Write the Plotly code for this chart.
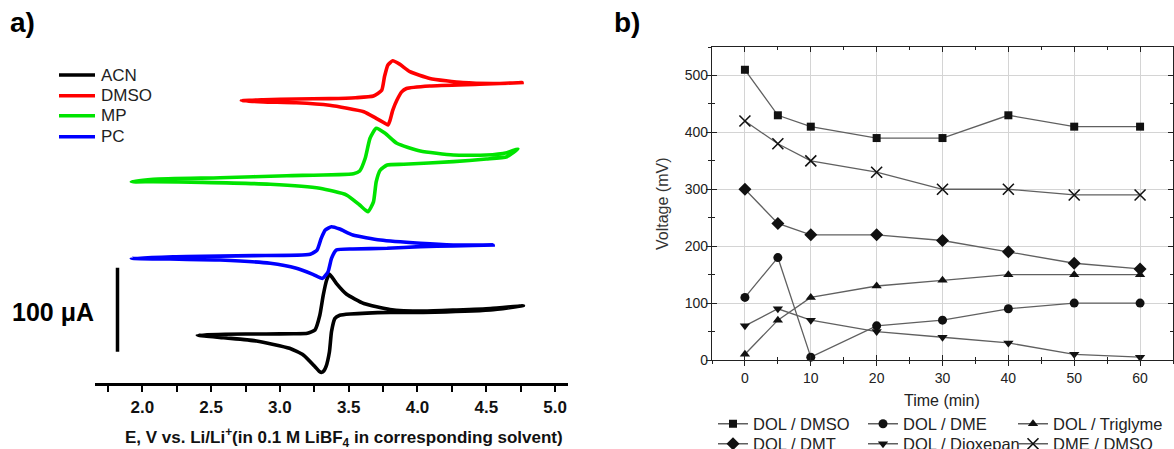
import plotly.graph_objects as go

W, H = 1174, 449
FONT = "Liberation Sans, Arial, sans-serif"

# ---------------- Panel a: cyclic voltammograms ----------------
# E in V vs Li/Li+, current in µA (curves vertically offset as in the figure)
acn_E = [2.40, 2.60, 2.90, 3.10, 3.20, 3.255, 3.29, 3.315, 3.34, 3.36, 3.41, 3.485, 3.61, 3.80, 4.04, 4.285, 4.53, 4.77,
         4.53, 4.04, 3.80, 3.51, 3.435, 3.40, 3.375, 3.36, 3.335, 3.32, 3.305, 3.285, 3.255, 3.17, 3.07, 2.83, 2.59, 2.40]
acn_I = [56.5, 57.5, 57.8, 58.0, 58.5, 62.5, 80.0, 104.0, 122.0, 129.0, 118.0, 105.0, 94.0, 87.0, 85.0, 86.3, 88.0, 91.5,
         86.3, 83.5, 83.5, 81.5, 80.0, 76.4, 60.5, 36.7, 18.8, 14.0, 12.1, 13.5, 18.8, 32.7, 40.7, 49.4, 53.3, 56.5]

dmso_E = [2.72, 2.88, 3.12, 3.36, 3.55, 3.68, 3.74, 3.76, 3.785, 3.82, 3.87, 3.945, 4.09, 4.33, 4.575, 4.76,
          4.45, 4.09, 3.92, 3.885, 3.85, 3.82, 3.80, 3.785, 3.76, 3.70, 3.61, 3.36, 3.12, 2.88, 2.72]
dmso_I = [335.5, 336.5, 337.5, 338.0, 339.0, 341.0, 348.0, 364.0, 378.0, 383.0, 379.0, 370.0, 362.0, 357.0, 356.0, 357.0,
          355.0, 353.0, 350.0, 346.0, 336.0, 324.0, 312.0, 306.5, 309.0, 314.5, 322.4, 330.0, 333.0, 334.0, 335.5]

mp_E = [1.92, 2.08, 2.565, 3.05, 3.535, 3.58, 3.62, 3.655, 3.70, 3.765, 3.85, 4.02, 4.26, 4.50, 4.65, 4.73,
        4.65, 4.50, 4.26, 3.90, 3.78, 3.73, 3.70, 3.68, 3.64, 3.58, 3.485, 3.29, 2.93, 2.44, 2.08, 1.92]
mp_I = [239.0, 242.0, 243.8, 246.2, 248.6, 251.8, 266.9, 290.7, 302.6, 296.7, 284.8, 275.6, 270.8, 270.8, 273.6, 278.0,
        268.8, 266.0, 262.9, 259.8, 258.9, 253.0, 239.0, 215.0, 203.3, 211.3, 223.2, 231.2, 236.0, 238.3, 239.0, 239.0]

pc_E = [1.92, 2.32, 2.81, 3.22, 3.27, 3.30, 3.33, 3.375, 3.435, 3.53, 3.73, 4.02, 4.26, 4.55,
        4.26, 4.02, 3.78, 3.53, 3.41, 3.375, 3.35, 3.31, 3.24, 3.12, 2.93, 2.565, 2.20, 1.92]
pc_I = [147.8, 149.8, 151.0, 152.6, 157.7, 171.6, 181.5, 185.5, 182.7, 175.6, 169.6, 165.7, 163.7, 163.7,
        162.5, 161.7, 159.8, 159.0, 157.7, 147.8, 131.9, 124.0, 128.8, 136.0, 141.9, 145.8, 147.0, 147.8]

cv_names = ["ACN", "DMSO", "MP", "PC"]
cv_colors = ["#000000", "#ff0000", "#00e400", "#0000ff"]
cv_data = [(acn_E, acn_I), (dmso_E, dmso_I), (mp_E, mp_I), (pc_E, pc_I)]
scale_bar_uA = 100

# ---------------- Panel b: voltage vs time ----------------
time_min = [0, 5, 10, 20, 30, 40, 50, 60]
dol_dmso = [510, 430, 410, 390, 390, 430, 410, 410]
dol_dme = [110, 180, 5, 60, 70, 90, 100, 100]
dol_triglyme = [10, 70, 110, 130, 140, 150, 150, 150]
dol_dmt = [300, 240, 220, 220, 210, 190, 170, 160]
dol_dioxepan = [60, 90, 70, 50, 40, 30, 10, 5]
dme_dmso = [420, 380, 350, 330, 300, 300, 290, 290]

series_b = [
    ("DOL / DMSO", dol_dmso, "square", 8, "legend"),
    ("DOL / DME", dol_dme, "circle", 9, "legend"),
    ("DOL / Triglyme", dol_triglyme, "triangle-up", 9, "legend"),
    ("DOL / DMT", dol_dmt, "diamond", 10, "legend2"),
    ("DOL / Dioxepan", dol_dioxepan, "triangle-down", 9, "legend2"),
    ("DME / DMSO", dme_dmso, "x-thin", 11, "legend2"),
]

fig = go.Figure()

for name, color, (E, I) in zip(cv_names, cv_colors, cv_data):
    fig.add_trace(go.Scatter(x=E, y=I, mode="lines", name=name, showlegend=False,
                             line=dict(color=color, width=3.6, shape="spline", smoothing=0.5),
                             xaxis="x2", yaxis="y2"))

for name, vals, sym, size, leg in series_b:
    if sym == "x-thin":
        marker = dict(symbol=sym, size=size, color="#111", line=dict(color="#111", width=1.6))
    else:
        marker = dict(symbol=sym, size=size, color="#111", line=dict(width=0))
    fig.add_trace(go.Scatter(x=time_min, y=vals, mode="lines+markers", name=name, legend=leg,
                             line=dict(color="#606060", width=1.3), marker=marker,
                             cliponaxis=False, xaxis="x", yaxis="y"))

# empty trace to host the outside-tick overlay axes
fig.add_trace(go.Scatter(x=[], y=[], xaxis="x3", yaxis="y3", showlegend=False, hoverinfo="skip"))


def px_x(p):
    return p / W


def px_y(p):
    return 1 - p / H


# axes geometry
xb_dom = [px_x(712), px_x(1173)]
yb_dom = [px_y(360), px_y(47)]
xr_b = [-5, 65]
yr_b = [0, 550]

leg_common = dict(orientation="h", xanchor="left", yanchor="middle",
                  font=dict(size=16.5, color="#222"), entrywidth=105, entrywidthmode="pixels",
                  itemwidth=30, bgcolor="rgba(0,0,0,0)", tracegroupgap=0)

fig.update_layout(
    width=W, height=H, margin=dict(l=0, r=0, t=0, b=0, autoexpand=False),
    paper_bgcolor="white", plot_bgcolor="white",
    font=dict(family=FONT, color="#222"),
    xaxis=dict(domain=xb_dom, range=xr_b, anchor="y", dtick=10, tick0=0,
               ticks="inside", ticklen=5, tickwidth=1.2, tickcolor="#222",
               showline=True, linecolor="#222", linewidth=1.3, mirror="ticks",
               showgrid=True, gridcolor="#d4d4d4", gridwidth=1, zeroline=False,
               minor=dict(dtick=5, tick0=0, ticks="inside", ticklen=3, tickcolor="#222", showgrid=False),
               ticklabelstandoff=5,
               tickfont=dict(size=14, color="#222")),
    yaxis=dict(domain=yb_dom, range=yr_b, anchor="x", dtick=100, tick0=0,
               ticks="inside", ticklen=5, tickwidth=1.2, tickcolor="#222",
               showline=True, linecolor="#222", linewidth=1.3, mirror="ticks",
               showgrid=True, gridcolor="#d4d4d4", gridwidth=1, zeroline=False,
               minor=dict(dtick=50, tick0=0, ticks="inside", ticklen=3, tickcolor="#222", showgrid=False),
               tickfont=dict(size=14, color="#222")),
    xaxis3=dict(overlaying="x", anchor="y3", range=xr_b, dtick=10, tick0=0,
                ticks="outside", ticklen=5, tickwidth=1.2, tickcolor="#222",
                showticklabels=False, showgrid=False, showline=False, zeroline=False,
                minor=dict(dtick=5, tick0=0, ticks="outside", ticklen=3, tickcolor="#222")),
    yaxis3=dict(overlaying="y", anchor="x3", range=yr_b, dtick=100, tick0=0,
                ticks="outside", ticklen=5, tickwidth=1.2, tickcolor="#222",
                showticklabels=False, showgrid=False, showline=False, zeroline=False,
                minor=dict(dtick=50, tick0=0, ticks="outside", ticklen=3, tickcolor="#222")),
    xaxis2=dict(domain=[px_x(95), px_x(568)], range=[1.656, 5.094], anchor="y2",
                dtick=0.5, tick0=0, tickformat=".1f",
                ticks="outside", ticklen=7, tickwidth=2.2, tickcolor="black",
                showline=True, linecolor="black", linewidth=2.6,
                showgrid=False, zeroline=False,
                minor=dict(dtick=0.25, tick0=0, ticks="outside", ticklen=7, tickwidth=2.2, tickcolor="black", showgrid=False),
                tickfont=dict(size=17, color="#111", weight="bold")),
    yaxis2=dict(domain=[px_y(382.5), px_y(40)], range=[0, (382.5 - 40) / 0.84], anchor="x2",
                visible=False),
    legend=dict(x=px_x(713), y=px_y(424), **leg_common),
    legend2=dict(x=px_x(713), y=px_y(444), **leg_common),
)

# scale bar (100 µA)
fig.add_shape(type="line", xref="paper", yref="y2", x0=px_x(117.5), x1=px_x(117.5),
              y0=36.7, y1=36.7 + scale_bar_uA, line=dict(color="black", width=3.5))

annotations = [
    dict(text="<b>a)</b>", x=px_x(8), y=px_y(22), xanchor="left", yanchor="middle",
         font=dict(size=28, color="black")),
    dict(text="<b>b)</b>", x=px_x(612), y=px_y(22), xanchor="left", yanchor="middle",
         font=dict(size=28, color="black")),
    dict(text="<b>100 μA</b>", x=px_x(96), y=px_y(312), xanchor="right", yanchor="middle",
         font=dict(size=25, color="black")),
    dict(text="<b>E, V vs. Li/Li<sup>+</sup>(in 0.1 M LiBF<sub>4</sub> in corresponding solvent)</b>",
         x=px_x(344), y=px_y(437), xanchor="center", yanchor="middle",
         font=dict(size=17, color="#111")),
    dict(text="Time (min)", x=px_x(942), y=px_y(400), xanchor="center", yanchor="middle",
         font=dict(size=16, color="#222")),
    dict(text="Voltage (mV)", x=px_x(663), y=px_y(204), xanchor="center", yanchor="middle",
         textangle=-90, font=dict(size=16, color="#333")),
]

# manual legend for panel a
leg_rows = [75, 95.7, 115.7, 136.7]
for name, color, yy in zip(cv_names, cv_colors, leg_rows):
    fig.add_shape(type="line", xref="paper", yref="paper", x0=px_x(59), x1=px_x(95),
                  y0=px_y(yy), y1=px_y(yy), line=dict(color=color, width=3.4))
    annotations.append(dict(text=name, x=px_x(99), y=px_y(yy), xanchor="left", yanchor="middle",
                            font=dict(size=17, color="#222")))

for a in annotations:
    a.setdefault("xref", "paper")
    a.setdefault("yref", "paper")
    a.setdefault("showarrow", False)
fig.update_layout(annotations=annotations)

fig.write_html("out.html", config={"displayModeBar": False},
               post_script="document.body.style.margin='0';document.body.style.overflow='hidden';")
